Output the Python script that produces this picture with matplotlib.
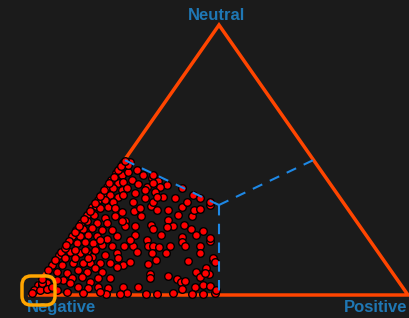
import numpy as np
import matplotlib
matplotlib.use("Agg")
import matplotlib.pyplot as plt
from matplotlib.patches import FancyBboxPatch

# ---- data (ternary fractions; negative = 1 - neutral - positive) ----
labels = ["Negative", "Positive", "Neutral"]

positive = [
    0.120, 0.130, 0.147, 0.155, 0.179, 0.208, 0.239, 0.282, 0.276, 0.290,
    0.310, 0.243, 0.226, 0.251, 0.237, 0.190, 0.203, 0.150, 0.114, 0.124,
    0.278, 0.304, 0.339, 0.167, 0.235, 0.295, 0.304, 0.328, 0.208, 0.182,
    0.221, 0.235, 0.252, 0.280, 0.319, 0.359, 0.158, 0.376, 0.190, 0.203,
    0.255, 0.269, 0.203, 0.245, 0.282, 0.355, 0.372, 0.419, 0.279, 0.286,
    0.330, 0.359, 0.375, 0.384, 0.397, 0.416, 0.420, 0.416, 0.435, 0.422,
    0.439, 0.460, 0.231, 0.271, 0.253, 0.305, 0.334, 0.375, 0.391, 0.427,
    0.456, 0.486, 0.371, 0.416, 0.428, 0.422, 0.483, 0.002, 0.003, 0.026,
    0.054, 0.071, 0.094, 0.124, 0.152, 0.152, 0.126, 0.099, 0.081, 0.054,
    0.029, 0.003, 0.002, 0.029, 0.057, 0.081, 0.108, 0.122, 0.148, 0.178,
    0.180, 0.148, 0.135, 0.104, 0.080, 0.060, 0.044, 0.023, 0.002, 0.013,
    0.002, 0.017, 0.034, 0.062, 0.092, 0.112, 0.140, 0.165, 0.193, 0.084,
    0.137, 0.201, 0.238, 0.180, 0.002, 0.002, 0.010, 0.024, 0.043, 0.002,
    0.021, 0.056, 0.079, 0.090, 0.002, 0.014, 0.044, 0.070, 0.106, 0.002,
    0.018, 0.040, 0.070, 0.097, 0.002, 0.023, 0.042, 0.068, 0.100, 0.121,
    0.002, 0.028, 0.047, 0.070, 0.098, 0.126, 0.006, 0.036, 0.062, 0.089,
    0.003, 0.002, 0.021, 0.002, 0.025, 0.004, 0.021, 0.049, 0.004, 0.026,
    0.051, 0.004, 0.022, 0.047, 0.002, 0.018, 0.052, 0.031, 0.077, 0.106,
    0.128, 0.159, 0.037, 0.057, 0.080, 0.110, 0.118, 0.144, 0.058, 0.089,
    0.110, 0.140, 0.170, 0.204, 0.204, 0.246, 0.270, 0.304, 0.061, 0.100,
    0.125, 0.153, 0.154, 0.243, 0.010, 0.043, 0.103, 0.019,
    0.002, 0.002, 0.002, 0.002, 0.002, 0.002, 0.002, 0.002, 0.002, 0.002,
    0.002, 0.002, 0.002, 0.002, 0.002,
    0.083, 0.085, 0.051, 0.024, 0.164, 0.163, 0.064,
]

neutral = [
    0.311, 0.322, 0.293, 0.330, 0.315, 0.315, 0.326, 0.293, 0.315, 0.319,
    0.333, 0.296, 0.278, 0.256, 0.252, 0.259, 0.244, 0.256, 0.274, 0.256,
    0.259, 0.244, 0.237, 0.222, 0.222, 0.215, 0.196, 0.222, 0.204, 0.181,
    0.181, 0.181, 0.178, 0.181, 0.181, 0.181, 0.181, 0.200, 0.111, 0.122,
    0.115, 0.130, 0.159, 0.156, 0.156, 0.126, 0.156, 0.130, 0.078, 0.063,
    0.070, 0.059, 0.048, 0.052, 0.085, 0.067, 0.085, 0.100, 0.078, 0.030,
    0.037, 0.033, 0.030, 0.030, 0.007, 0.004, 0.004, 0.007, 0.022, 0.004,
    0.004, 0.007, 0.211, 0.137, 0.122, 0.081, 0.019, 0.148, 0.159, 0.159,
    0.156, 0.159, 0.141, 0.148, 0.156, 0.119, 0.119, 0.119, 0.119, 0.119,
    0.111, 0.111, 0.093, 0.085, 0.081, 0.093, 0.085, 0.100, 0.085, 0.104,
    0.063, 0.063, 0.048, 0.067, 0.063, 0.056, 0.056, 0.044, 0.037, 0.037,
    0.019, 0.019, 0.022, 0.019, 0.011, 0.030, 0.026, 0.030, 0.026, 0.044,
    0.007, 0.002, 0.002, 0.011, 0.007, 0.326, 0.330, 0.322, 0.326, 0.296,
    0.296, 0.285, 0.293, 0.307, 0.267, 0.274, 0.267, 0.267, 0.274, 0.241,
    0.244, 0.248, 0.241, 0.241, 0.219, 0.219, 0.222, 0.219, 0.207, 0.219,
    0.200, 0.193, 0.196, 0.193, 0.185, 0.181, 0.174, 0.167, 0.167, 0.167,
    0.470, 0.452, 0.444, 0.426, 0.415, 0.400, 0.396, 0.389, 0.378, 0.370,
    0.363, 0.352, 0.352, 0.344, 0.489, 0.493, 0.463, 0.456, 0.444, 0.433,
    0.422, 0.407, 0.419, 0.426, 0.411, 0.400, 0.415, 0.400, 0.396, 0.378,
    0.389, 0.381, 0.363, 0.359, 0.396, 0.370, 0.359, 0.344, 0.370, 0.344,
    0.359, 0.344, 0.363, 0.344, 0.044, 0.030, 0.444, 0.481,
    0.060, 0.128, 0.185, 0.232, 0.255, 0.282, 0.311, 0.340, 0.365, 0.389,
    0.413, 0.438, 0.463, 0.478, 0.497,
    0.204, 0.137, 0.137, 0.137, 0.137, 0.204, 0.322,
]

pos = np.array(positive)
neu = np.array(neutral)
neg = 1.0 - pos - neu

H = np.sqrt(3) / 2


def to_xy(p, n):
    p = np.asarray(p, dtype=float)
    n = np.asarray(n, dtype=float)
    return p + n / 2.0, n * H


BG = "#1b1b1b"
fig = plt.figure(figsize=(4.10, 3.18), dpi=100, facecolor=BG)
ax = fig.add_axes([30 / 410, 23 / 318, 378 / 410, 270 / 318])
ax.set_facecolor(BG)
ax.set_xlim(0, 1)
ax.set_ylim(0, H)
ax.axis("off")

# triangle outline (vertices: Negative, Positive, Neutral)
tri_pos = [0, 1, 0, 0]
tri_neu = [0, 0, 1, 0]
tx, ty = to_xy(tri_pos, tri_neu)
ax.plot(tx, ty, color="#ff4500", lw=2.5, clip_on=False, zorder=2,
        solid_joinstyle="miter")

# data points
px, py = to_xy(pos, neu)
ax.scatter(px, py, s=30, c="#ff0000", edgecolors="black", linewidths=1.0,
           zorder=3, clip_on=False)

# dashed region boundaries: centroid -> edge midpoints
c_pos, c_neu = 1 / 3, 1 / 3
mids = [(0.5, 0.0), (0.0, 0.5), (0.5, 0.5)]
for mp, mn in mids:
    lx, ly = to_xy([c_pos, mp], [c_neu, mn])
    ax.plot(lx, ly, color="#1e88e5", lw=1.5, dashes=(5, 4), zorder=4,
            clip_on=False)

# labels
lab_color = "#1f77b4"
fkw = dict(family=["Liberation Sans", "DejaVu Sans"], fontsize=12,
           fontweight="bold", color=lab_color)
fig.text(217 / 410, 297.5 / 318, labels[2], ha="center", va="baseline", **fkw)
fig.text(27 / 410, 6 / 318, labels[0], ha="left", va="baseline", **fkw)
fig.text(407 / 410, 6 / 318, labels[1], ha="right", va="baseline", **fkw)

# orange highlight around the Negative corner
hl = FancyBboxPatch((22, 13), 33, 29, boxstyle="round,pad=0,rounding_size=9",
                    transform=None, fill=False, edgecolor="#ffa500",
                    lw=2.5, zorder=10)
fig.patches.append(hl)

fig.savefig("out.png", dpi=100, facecolor=BG)
